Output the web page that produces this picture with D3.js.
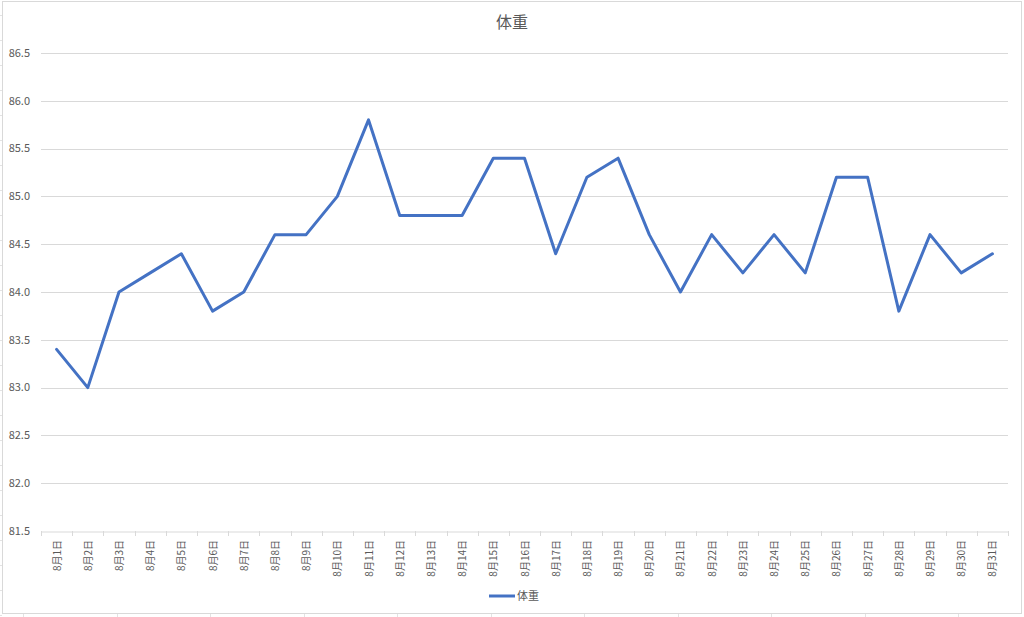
<!DOCTYPE html>
<html><head><meta charset="utf-8">
<script src="https://cdn.jsdelivr.net/npm/d3@7"></script>
<style>body{margin:0;background:#fff;}svg{display:block;font-family:"Noto Sans CJK JP","Noto Sans CJK SC",sans-serif;}</style>
</head><body>
<svg id="c" width="1024" height="617"></svg>
<script>
const title = "体重";
const seriesName = "体重";
const categories = ["8月1日","8月2日","8月3日","8月4日","8月5日","8月6日","8月7日","8月8日","8月9日","8月10日","8月11日","8月12日","8月13日","8月14日","8月15日","8月16日","8月17日","8月18日","8月19日","8月20日","8月21日","8月22日","8月23日","8月24日","8月25日","8月26日","8月27日","8月28日","8月29日","8月30日","8月31日"];
const weights = [83.4,83.0,84.0,84.2,84.4,83.8,84.0,84.6,84.6,85.0,85.8,84.8,84.8,84.8,85.4,85.4,84.4,85.2,85.4,84.6,84.0,84.6,84.2,84.6,84.2,85.2,85.2,83.8,84.6,84.2,84.4];
const yTicks = [81.5,82.0,82.5,83.0,83.5,84.0,84.5,85.0,85.5,86.0,86.5];

const svg = d3.select("#c");
const W = 1024, H = 617;
const L = 41, R = 1008, T = 53, B = 531;

// sheet gridline stubs outside chart
const sheet = svg.append("g").attr("stroke","#e3e3e3").attr("stroke-width",1);
for (let y = 15; y < H; y += 25) sheet.append("line").attr("x1",0).attr("x2",2).attr("y1",y+0.5).attr("y2",y+0.5);
for (let x = 23; x < W; x += 93.5) sheet.append("line").attr("x1",Math.round(x)+0.5).attr("x2",Math.round(x)+0.5).attr("y1",614).attr("y2",617);

// chart frame
svg.append("rect").attr("x",2.5).attr("y",1.5).attr("width",1019).attr("height",612)
  .attr("fill","#fff").attr("stroke","#d9d9d9").attr("stroke-width",1);

const x = d3.scaleBand().domain(categories).range([L, R]);
const y = d3.scaleLinear().domain([81.5, 86.5]).range([B, T]);

// gridlines
svg.append("g").selectAll("line").data(yTicks.slice(1)).join("line")
  .attr("x1",L).attr("x2",R).attr("y1",d=>Math.round(y(d))+0.5).attr("y2",d=>Math.round(y(d))+0.5)
  .attr("stroke","#d9d9d9").attr("stroke-width",1);

// y labels
svg.append("g").selectAll("text").data(yTicks).join("text")
  .attr("x",30).attr("y",d=>y(d)).attr("dy","0.35em").attr("text-anchor","end")
  .attr("font-size",11).attr("fill","#595959").text(d=>d.toFixed(1));

// x axis
const xAxis = d3.axisBottom(x).tickSize(0).tickFormat("");
const gx = svg.append("g").attr("transform",`translate(0,${Math.round(B)+0.5})`).call(xAxis);
gx.select(".domain").attr("stroke","#d9d9d9");
svg.append("g").selectAll("line").data(d3.range(categories.length+1)).join("line")
  .attr("x1",i=>Math.round(L + i*x.step())+0.5).attr("x2",i=>Math.round(L + i*x.step())+0.5)
  .attr("y1",B).attr("y2",B+5).attr("stroke","#d9d9d9");
svg.append("g").selectAll("text").data(categories).join("text")
  .attr("transform",d=>`translate(${x(d)+x.bandwidth()/2+4},${B+9}) rotate(-90)`)
  .attr("text-anchor","end").attr("font-size",10).attr("fill","#595959").text(d=>d);

// line
const line = d3.line().x((d,i)=>x(categories[i])+x.bandwidth()/2).y(d=>y(d));
svg.append("path").datum(weights).attr("d",line).attr("fill","none")
  .attr("stroke","#4472C4").attr("stroke-width",3).attr("stroke-linejoin","round").attr("stroke-linecap","round");

// title
svg.append("text").attr("x",512).attr("y",28).attr("text-anchor","middle")
  .attr("font-size",16).attr("fill","#595959").text(title);

// legend
svg.append("line").attr("x1",489).attr("x2",515).attr("y1",596).attr("y2",596)
  .attr("stroke","#4472C4").attr("stroke-width",3);
svg.append("text").attr("x",517).attr("y",596).attr("dy","0.35em")
  .attr("font-size",11).attr("fill","#595959").text(seriesName);
</script>
</body></html>
